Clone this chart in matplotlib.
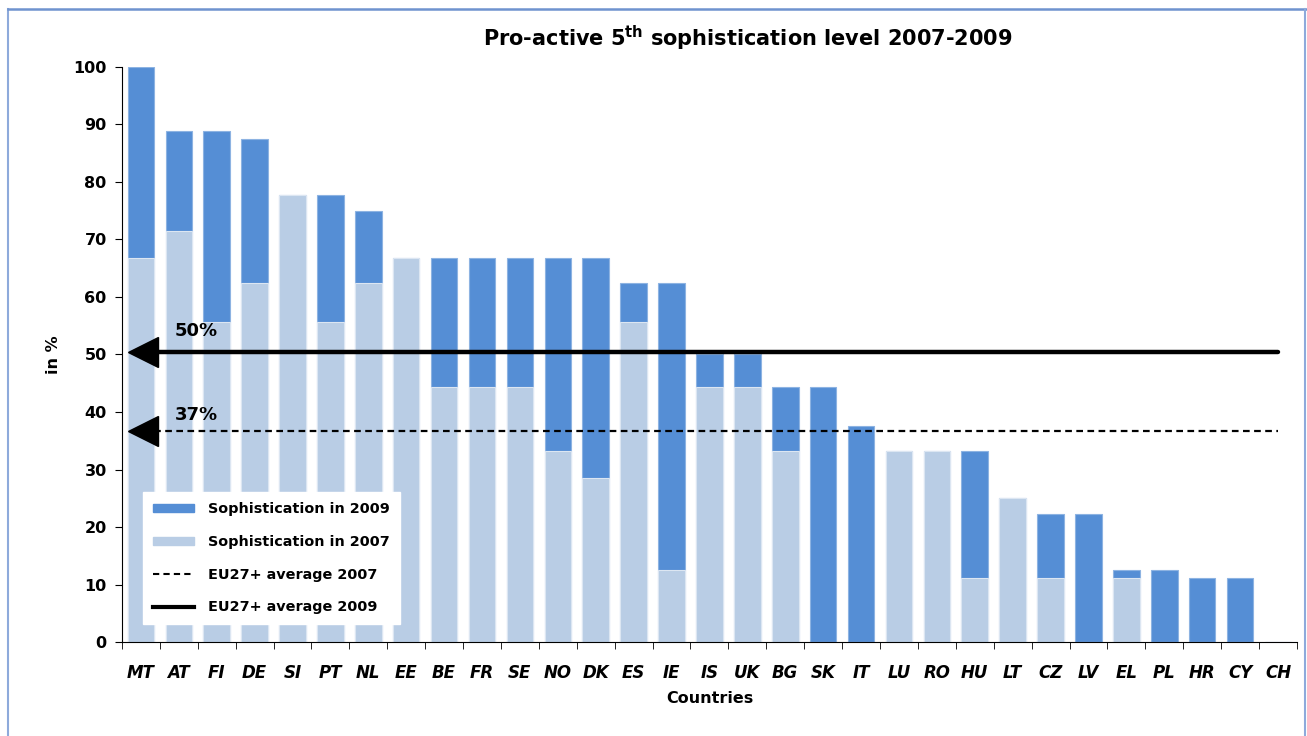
import matplotlib.pyplot as plt
import numpy as np
from matplotlib.patches import Rectangle
from matplotlib.lines import Line2D

countries = ["MT", "AT", "FI", "DE", "SI", "PT", "NL", "EE", "BE", "FR", "SE", "NO",
             "DK", "ES", "IE", "IS", "UK", "BG", "SK", "IT", "LU", "RO", "HU", "LT",
             "CZ", "LV", "EL", "PL", "HR", "CY", "CH"]
soph_2009 = [100, 88.9, 88.9, 87.5, 77.8, 77.8, 75, 66.7, 66.7, 66.7, 66.7, 66.7,
             66.7, 62.5, 62.5, 50, 50, 44.4, 44.4, 37.5, 33.3, 33.3, 33.3, 25,
             22.2, 22.2, 12.5, 12.5, 11.1, 11.1, 0]
soph_2007 = [66.7, 71.4, 55.6, 62.5, 77.8, 55.6, 62.5, 66.7, 44.4, 44.4, 44.4, 33.3,
             28.6, 55.6, 12.5, 44.4, 44.4, 33.3, 0, 0, 33.3, 33.3, 11.1, 25,
             11.1, 0, 11.1, 0, 0, 0, 0]
avg_2007 = 36.7
avg_2009 = 50.5

dark = "#558ED5"
light = "#B9CDE5"

fig = plt.figure(figsize=(13.07, 7.36), dpi=100)
ax = fig.add_axes([0.0933, 0.1277, 0.899, 0.7813])

x = np.arange(len(countries))
ax.bar(x, soph_2009, width=0.7, color=dark, edgecolor="#8DB3E2", linewidth=0.8,
       label="Sophistication in 2009", zorder=2)
ax.bar(x, soph_2007, width=0.7, color=light, edgecolor="#DCE6F2", linewidth=0.8,
       label="Sophistication in 2007", zorder=2)

# average lines with arrow heads pointing at the axis
ax.plot([0.05, 30.0], [avg_2007, avg_2007], color="black", lw=1.6,
        dashes=(3, 2), zorder=3, solid_capstyle="butt")
ax.plot([0.05, 30.0], [avg_2009, avg_2009], color="black", lw=3.2,
        zorder=3, solid_capstyle="round")
ax.plot([0.055], [avg_2007], marker="<", ms=21.6, color="black", zorder=4)
ax.plot([0.055], [avg_2009], marker="<", ms=21.6, color="black", zorder=4)
ax.text(0.9, avg_2009 + 2.0, "50%", fontsize=13, fontweight="bold", va="bottom", zorder=5)
ax.text(0.9, avg_2007 + 1.2, "37%", fontsize=13, fontweight="bold", va="bottom", zorder=5)

ax.set_xlim(-0.5, len(countries) - 0.5)
ax.set_ylim(0, 100)
ax.set_yticks(range(0, 101, 10))
ax.set_xticks(x)
ax.set_xticklabels(countries, fontsize=12, fontweight="bold", style="italic")
ax.set_xticks(np.arange(-0.5, len(countries), 1), minor=True)
ax.tick_params(axis="x", which="major", length=0, pad=16)
ax.tick_params(axis="x", which="minor", length=5, direction="out")
ax.tick_params(axis="y", length=5, direction="out", labelsize=11.5, pad=6)
for lab in ax.get_yticklabels():
    lab.set_fontweight("bold")
ax.spines["top"].set_visible(False)
ax.spines["right"].set_visible(False)
ax.set_xlabel("Countries", fontsize=11.5, fontweight="bold", labelpad=6)
ax.set_ylabel("in %", fontsize=11.5, fontweight="bold", labelpad=9)
ax.set_title("Pro-active 5$^{\\mathbf{th}}$ sophistication level 2007-2009",
             fontsize=15, fontweight="bold", x=0.533, y=1.0, pad=15)

handles = [Rectangle((0, 0), 1, 1, color=dark), Rectangle((0, 0), 1, 1, color=light),
           Line2D([], [], color="black", lw=1.5, dashes=(3, 2)),
           Line2D([], [], color="black", lw=3)]
labels = ["Sophistication in 2009", "Sophistication in 2007",
          "EU27+ average 2007", "EU27+ average 2009"]
leg = ax.legend(handles, labels, loc="lower left", bbox_to_anchor=(0.012, 0.018),
                frameon=True, fancybox=False, edgecolor="white", framealpha=1,
                prop={"weight": "bold", "size": 10.4}, handlelength=2.8, handleheight=0.5,
                handletextpad=1.0, labelspacing=1.3, borderpad=0.7)

# light blue frame around the figure
fig.add_artist(Line2D([8 / 1307, 8 / 1307], [0, 1 - 9 / 736], transform=fig.transFigure,
                      color="#8EAADB", lw=1.5))
fig.add_artist(Line2D([8 / 1307, 1306 / 1307], [1 - 9 / 736, 1 - 9 / 736],
                      transform=fig.transFigure, color="#6F93CF", lw=1.8))
fig.add_artist(Line2D([1305 / 1307, 1305 / 1307], [0, 1 - 9 / 736], transform=fig.transFigure,
                      color="#8EAADB", lw=1.5))

plt.savefig("out.png", dpi=100)
